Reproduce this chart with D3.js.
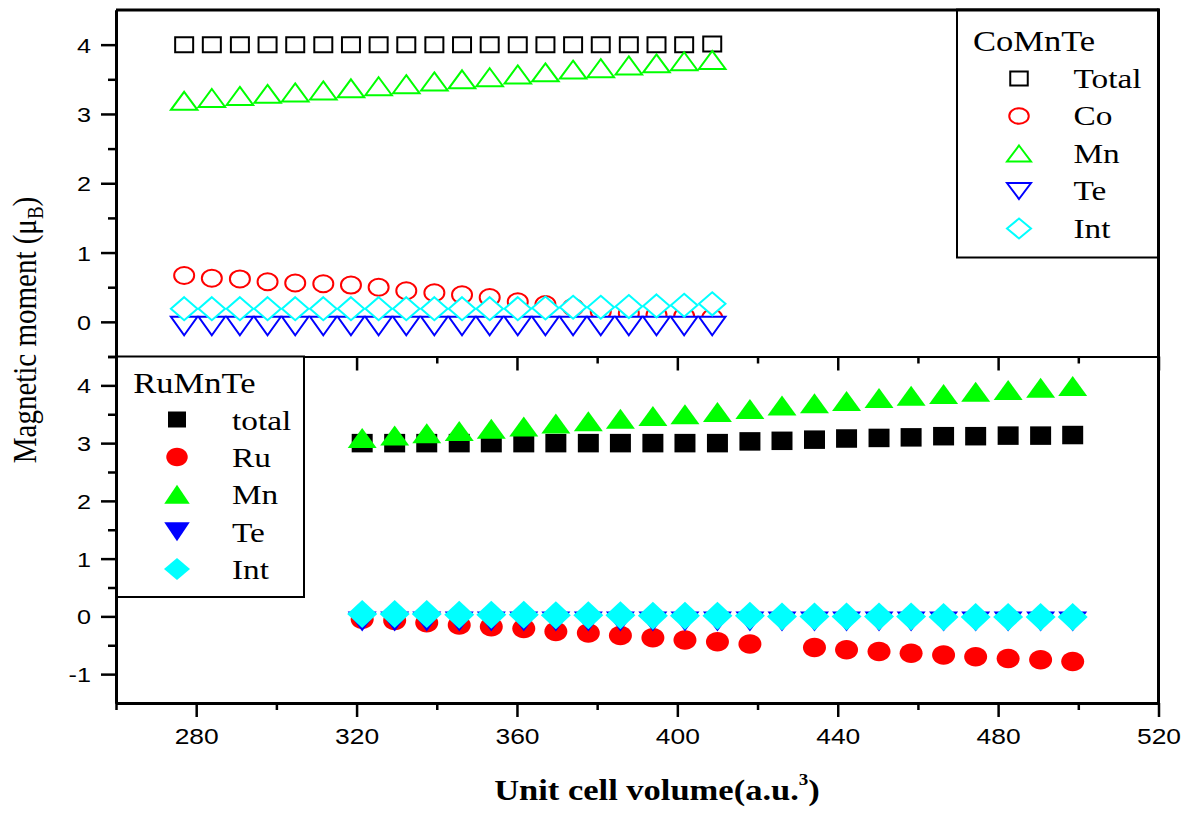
<!DOCTYPE html>
<html>
<head>
<meta charset="utf-8">
<script src="https://cdn.jsdelivr.net/npm/d3@7"></script>
<style>
  body { margin: 0; background: #fff; }
  svg { display: block; }
</style>
</head>
<body>
<svg id="chart" width="1195" height="814"></svg>
<script>
// ---- CoMnTe (upper panel): unit cell volume and magnetic moments ----
const volCoMnTe = [277.0, 283.9, 290.9, 297.8, 304.7, 311.7, 318.6, 325.5, 332.4, 339.4,
                   346.3, 353.2, 360.2, 367.1, 374.0, 380.9, 387.9, 394.8, 401.7, 408.7];
const coTotal = [4.00, 4.00, 4.00, 4.00, 4.00, 4.00, 4.00, 4.00, 4.00, 4.00,
                 4.00, 4.00, 4.00, 4.00, 4.00, 4.00, 4.00, 4.00, 4.00, 4.01];
const coCo    = [0.67, 0.63, 0.62, 0.58, 0.56, 0.55, 0.53, 0.50, 0.45, 0.42,
                 0.39, 0.35, 0.29, 0.25, 0.21, 0.15, 0.12, 0.10, 0.08, 0.06];
const coMn    = [3.19, 3.23, 3.26, 3.29, 3.31, 3.34, 3.37, 3.40, 3.43, 3.47,
                 3.50, 3.53, 3.57, 3.60, 3.64, 3.66, 3.70, 3.73, 3.76, 3.78];
const coTe    = [-0.06, -0.06, -0.06, -0.06, -0.06, -0.06, -0.06, -0.06, -0.06, -0.06,
                 -0.06, -0.06, -0.06, -0.06, -0.06, -0.06, -0.06, -0.06, -0.06, -0.06];
const coInt   = [0.19, 0.19, 0.19, 0.19, 0.19, 0.19, 0.19, 0.19, 0.19, 0.19,
                 0.19, 0.19, 0.19, 0.20, 0.21, 0.21, 0.22, 0.23, 0.24, 0.26];

// ---- RuMnTe (lower panel) ----
const volRuMnTe = [321.4, 329.5, 337.5, 345.6, 353.6, 361.7, 369.7, 377.8, 385.8, 393.9,
                   401.9, 410.0, 418.1, 426.1, 434.2, 442.2, 450.3, 458.3, 466.4, 474.4,
                   482.5, 490.6, 498.6];
const ruTotal = [3.00, 3.00, 3.00, 3.00, 3.00, 3.00, 3.00, 3.00, 3.00, 3.00,
                 3.00, 3.00, 3.03, 3.04, 3.06, 3.08, 3.09, 3.10, 3.12, 3.12,
                 3.13, 3.13, 3.14];
const ruRu    = [-0.05, -0.07, -0.11, -0.15, -0.18, -0.21, -0.26, -0.29, -0.33, -0.37,
                 -0.41, -0.44, -0.48, null, -0.54, -0.58, -0.61, -0.64, -0.67, -0.70,
                 -0.73, -0.75, -0.78];
const ruMn    = [3.09, 3.13, 3.17, 3.21, 3.25, 3.29, 3.34, 3.38, 3.42, 3.47,
                 3.50, 3.54, 3.59, 3.65, 3.69, 3.73, 3.78, 3.82, 3.85, 3.89,
                 3.92, 3.96, 3.99];
const ruTe    = [-0.09, -0.09, -0.09, -0.09, -0.09, -0.09, -0.09, -0.09, -0.09, -0.09,
                 -0.09, -0.09, -0.09, -0.09, -0.09, -0.09, -0.09, -0.09, -0.09, -0.09,
                 -0.09, -0.09, -0.09];
const ruInt   = [0.04, 0.04, 0.04, 0.03, 0.03, 0.03, 0.02, 0.02, 0.02, 0.01,
                 0.01, 0.01, 0.01, 0.00, 0.00, 0.00, 0.00, 0.00, -0.01, -0.01,
                 -0.01, -0.01, -0.01];

// ---- axis ticks and legend text ----
const xMajorTicks = [280, 320, 360, 400, 440, 480, 520];
const xMinorTicks = [260, 300, 340, 380, 420, 460, 500];
const yTopMajor = [0, 1, 2, 3, 4];
const yTopMinor = [-0.5, 0.5, 1.5, 2.5, 3.5];
const yBotMajor = [-1, 0, 1, 2, 3, 4];
const yBotMinor = [-0.5, 0.5, 1.5, 2.5, 3.5, 4.5];
const legendCoTitle = "CoMnTe";
const legendCoNames = ["Total", "Co", "Mn", "Te", "Int"];
const legendRuTitle = "RuMnTe";
const legendRuNames = ["total", "Ru", "Mn", "Te", "Int"];
const xTitle = "Unit cell volume(a.u.";
const yTitle = "Magnetic moment (\u03bc";

// ---- layout ----
const L = 116, R = 1158.5, T = 10, MID = 356.5, B = 703;
const SERIF = "'Times New Roman', 'Liberation Serif', serif";
const SANS = "Arial, 'Liberation Sans', sans-serif";
const WIDE = 1.19;   // horizontal stretch of all lettering

const svg = d3.select("#chart");
const x = d3.scaleLinear([260, 520], [L, R]);
const yTop = d3.scaleLinear([-0.5, 4.5], [MID, T]);
const yBot = d3.scaleLinear([-1.5, 4.5], [B, MID]);

// marker outlines with independent width / height, centred on the point
const shapes = {
  square: (w, h) => ({ draw(c) { c.rect(-w / 2, -h / 2, w, h); } }),
  circle: (w, h) => ({ draw(c) {
    const k = 0.5523, a = w / 2, b = h / 2;
    c.moveTo(a, 0);
    c.bezierCurveTo(a, k * b, k * a, b, 0, b);
    c.bezierCurveTo(-k * a, b, -a, k * b, -a, 0);
    c.bezierCurveTo(-a, -k * b, -k * a, -b, 0, -b);
    c.bezierCurveTo(k * a, -b, a, -k * b, a, 0);
    c.closePath();
  } }),
  up: (w, h) => ({ draw(c) { c.moveTo(0, -h / 2); c.lineTo(w / 2, h / 2); c.lineTo(-w / 2, h / 2); c.closePath(); } }),
  down: (w, h) => ({ draw(c) { c.moveTo(0, h / 2); c.lineTo(w / 2, -h / 2); c.lineTo(-w / 2, -h / 2); c.closePath(); } }),
  diamond: (w, h) => ({ draw(c) { c.moveTo(0, -h / 2); c.lineTo(w / 2, 0); c.lineTo(0, h / 2); c.lineTo(-w / 2, 0); c.closePath(); } })
};
const symbolPath = (shape, w, h) => d3.symbol().type(shapes[shape](w, h))();

// series styling
const topSeries = [
  { values: coTotal, color: "#000000", shape: "square",  w: 18,   h: 15 },
  { values: coCo,    color: "#ff0000", shape: "circle",  w: 20,   h: 17 },
  { values: coMn,    color: "#00ff00", shape: "up",      w: 26.5, h: 18 },
  { values: coTe,    color: "#0000ff", shape: "down",    w: 26.5, h: 18.5 },
  { values: coInt,   color: "#00ffff", shape: "diamond", w: 26.5, h: 23 }
];
const botSeries = [
  { values: ruTotal, color: "#000000", shape: "square",  w: 21, h: 18.5 },
  { values: ruRu,    color: "#ff0000", shape: "circle",  w: 23, h: 19.5 },
  { values: ruMn,    color: "#00ff00", shape: "up",      w: 29, h: 20 },
  { values: ruTe,    color: "#0000ff", shape: "down",    w: 29, h: 20 },
  { values: ruInt,   color: "#00ffff", shape: "diamond", w: 30, h: 28 }
];

const minus = d => (d < 0 ? "-" : "") + Math.abs(d);
function styleAxis(g, w) {
  g.select(".domain").attr("stroke-width", w);
  g.selectAll(".tick line").attr("stroke-width", 2.5);
}

// bottom axes: panel divider (no labels) and lower axis (labelled)
function bottomAxis(yPos, labelled, w) {
  const gMin = svg.append("g").attr("transform", `translate(0,${yPos})`)
    .call(d3.axisBottom(x).tickValues(xMinorTicks).tickSize(7).tickSizeOuter(0).tickFormat(""));
  styleAxis(gMin, w);
  const gMaj = svg.append("g").attr("transform", `translate(0,${yPos})`)
    .call(d3.axisBottom(x).tickValues(xMajorTicks).tickSize(14).tickSizeOuter(0)
      .tickFormat(labelled ? d3.format("d") : ""));
  styleAxis(gMaj, w);
  if (labelled) {
    gMaj.selectAll(".tick text")
      .attr("y", null).attr("dy", null)
      .attr("transform", `translate(0,40.5) scale(1.2,1)`)
      .attr("font-family", SANS).attr("font-size", 22).attr("fill", "#000");
  }
}
// the divider axis sits underneath the lower legend box
bottomAxis(MID, false, 2);

// ---- markers ----
const gTop = svg.append("g");
topSeries.forEach(s => {
  const pts = volCoMnTe.map((v, i) => [v, s.values[i]]).filter(d => d[1] != null);
  gTop.append("g").selectAll("path").data(pts).join("path")
    .attr("d", symbolPath(s.shape, s.w, s.h))
    .attr("transform", d => `translate(${x(d[0])},${yTop(d[1])})`)
    .attr("fill", "#fff").attr("stroke", s.color).attr("stroke-width", 2);
});
const gBot = svg.append("g");
botSeries.forEach(s => {
  const pts = volRuMnTe.map((v, i) => [v, s.values[i]]).filter(d => d[1] != null);
  gBot.append("g").selectAll("path").data(pts).join("path")
    .attr("d", symbolPath(s.shape, s.w, s.h))
    .attr("transform", d => `translate(${x(d[0])},${yBot(d[1])})`)
    .attr("fill", s.color).attr("stroke", "none");
});

// ---- legends ----
function wideText(g, str, tx, ty, size) {
  return g.append("text")
    .attr("transform", `translate(${tx},${ty}) scale(${WIDE},1)`)
    .attr("font-family", SERIF).attr("font-size", size).attr("fill", "#000")
    .text(str);
}

// CoMnTe legend (upper right, open symbols)
const legCo = svg.append("g");
legCo.append("rect").attr("x", 957).attr("y", 9.5).attr("width", R - 957).attr("height", 248)
  .attr("fill", "#fff").attr("stroke", "#000").attr("stroke-width", 2);
wideText(legCo, legendCoTitle, 973, 50.7, 29);
const legCoSym = [
  { shape: "square", w: 17.5, h: 14 }, { shape: "circle", w: 19.5, h: 15.5 },
  { shape: "up", w: 24, h: 16 }, { shape: "down", w: 24, h: 16 }, { shape: "diamond", w: 24, h: 20 }
];
legendCoNames.forEach((name, i) => {
  const base = 87.5 + i * 37.5;
  legCo.append("path").attr("d", symbolPath(legCoSym[i].shape, legCoSym[i].w, legCoSym[i].h))
    .attr("transform", `translate(1019,${base - 9})`)
    .attr("fill", "#fff").attr("stroke", topSeries[i].color).attr("stroke-width", 2);
  wideText(legCo, name, 1073.5, base, 28);
});

// RuMnTe legend (lower left, filled symbols)
const legRu = svg.append("g");
legRu.append("rect").attr("x", L).attr("y", MID).attr("width", 304 - L).attr("height", 597 - MID)
  .attr("fill", "#fff").attr("stroke", "#000").attr("stroke-width", 2);
wideText(legRu, legendRuTitle, 133.3, 392.7, 29);
const legRuSym = [
  { shape: "square", w: 18, h: 16 }, { shape: "circle", w: 21.5, h: 18.5 },
  { shape: "up", w: 25.5, h: 19 }, { shape: "down", w: 25.5, h: 19 }, { shape: "diamond", w: 26, h: 22 }
];
legendRuNames.forEach((name, i) => {
  const base = 429.5 + i * 37.4;
  legRu.append("path").attr("d", symbolPath(legRuSym[i].shape, legRuSym[i].w, legRuSym[i].h))
    .attr("transform", `translate(177,${base - 10})`)
    .attr("fill", botSeries[i].color);
  wideText(legRu, name, 232, base, 28);
});

// ---- left axes, lower axis and frame ----
function leftAxis(scale, major, minor) {
  const gMin = svg.append("g").attr("transform", `translate(${L},0)`)
    .call(d3.axisLeft(scale).tickValues(minor).tickSize(8).tickSizeOuter(0).tickFormat(""));
  styleAxis(gMin, 3);
  const gMaj = svg.append("g").attr("transform", `translate(${L},0)`)
    .call(d3.axisLeft(scale).tickValues(major).tickSize(15).tickSizeOuter(0).tickFormat(minus));
  styleAxis(gMaj, 3);
  gMaj.selectAll(".tick text")
    .attr("x", null).attr("dy", null)
    .attr("transform", `translate(-25,7.5) scale(1.2,1)`)
    .attr("text-anchor", "end")
    .attr("font-family", SANS).attr("font-size", 21).attr("fill", "#000");
}
leftAxis(yTop, yTopMajor, yTopMinor);
leftAxis(yBot, yBotMajor, yBotMinor);
bottomAxis(B, true, 3);

svg.append("line").attr("x1", L).attr("x2", R).attr("y1", T).attr("y2", T)
  .attr("stroke", "#000").attr("stroke-width", 3);
svg.append("line").attr("x1", R).attr("x2", R).attr("y1", T - 1.5).attr("y2", B + 1.5)
  .attr("stroke", "#000").attr("stroke-width", 3);

// ---- axis titles ----
const xt = svg.append("text")
  .attr("transform", `translate(657,800) scale(${WIDE},1)`)
  .attr("text-anchor", "middle")
  .attr("font-family", SERIF).attr("font-size", 29).attr("font-weight", "bold").attr("fill", "#000");
xt.append("tspan").text(xTitle);
xt.append("tspan").attr("font-size", 16).attr("dy", -15).text("3");
xt.append("tspan").attr("dy", 15).text(")");

const yt = svg.append("text")
  .attr("transform", `translate(36,330) scale(${WIDE},1) rotate(-90)`)
  .attr("text-anchor", "middle")
  .attr("font-family", SERIF).attr("font-size", 29).attr("fill", "#000");
yt.append("tspan").text(yTitle);
yt.append("tspan").attr("font-size", 19).attr("dy", 6).text("B");
yt.append("tspan").attr("dy", -6).text(")");
</script>
</body>
</html>
